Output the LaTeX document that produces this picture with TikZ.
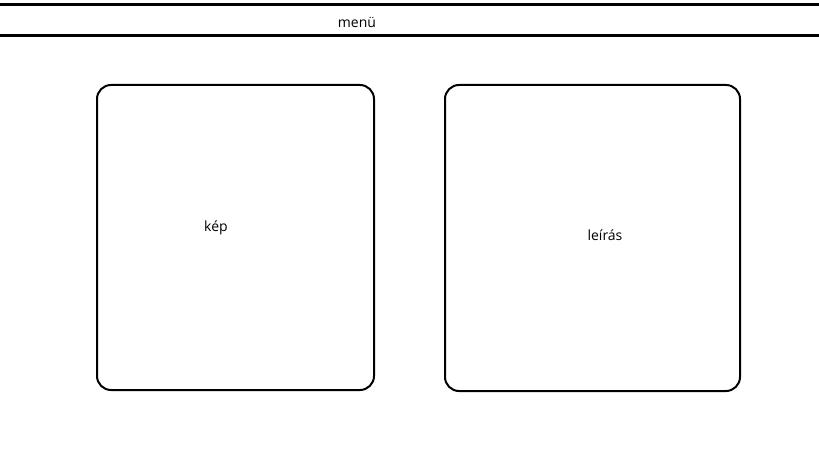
\documentclass[tikz,border=0pt]{standalone}
\usepackage{fontspec}
\setmainfont{Open Sans}
\usetikzlibrary{positioning}

\begin{document}
\begin{tikzpicture}[x=0.75pt,y=-0.75pt,semithick]
\tikzstyle{panel}=[draw=black,line width=1.5pt,rounded corners=10.5pt,fill=white,inner sep=0pt]
\tikzstyle{bar}=[draw=black,line width=2.25pt]
\tikzstyle{label}=[text=black,font=\fontsize{10.5pt}{12pt}\selectfont,inner sep=0pt]
\useasboundingbox (0,0) rectangle (819,460);
% menu bar
\draw[bar] (0,5) -- (819,5);
\draw[bar] (0,35.5) -- (819,35.5);
\node[label] (menu) at (357,22.5) {menü};
% panels
\node[panel,minimum width=207.75pt,minimum height=228.75pt] (kep) at (235.5,237.5) {};
\node[panel,minimum width=221.25pt,minimum height=229.5pt] (leiras) at (592.5,238) {};
\node[label] (keplabel) at (216,228) {kép};
\node[label] (leiraslabel) at (605,235) {leírás};
\end{tikzpicture}
\end{document}
